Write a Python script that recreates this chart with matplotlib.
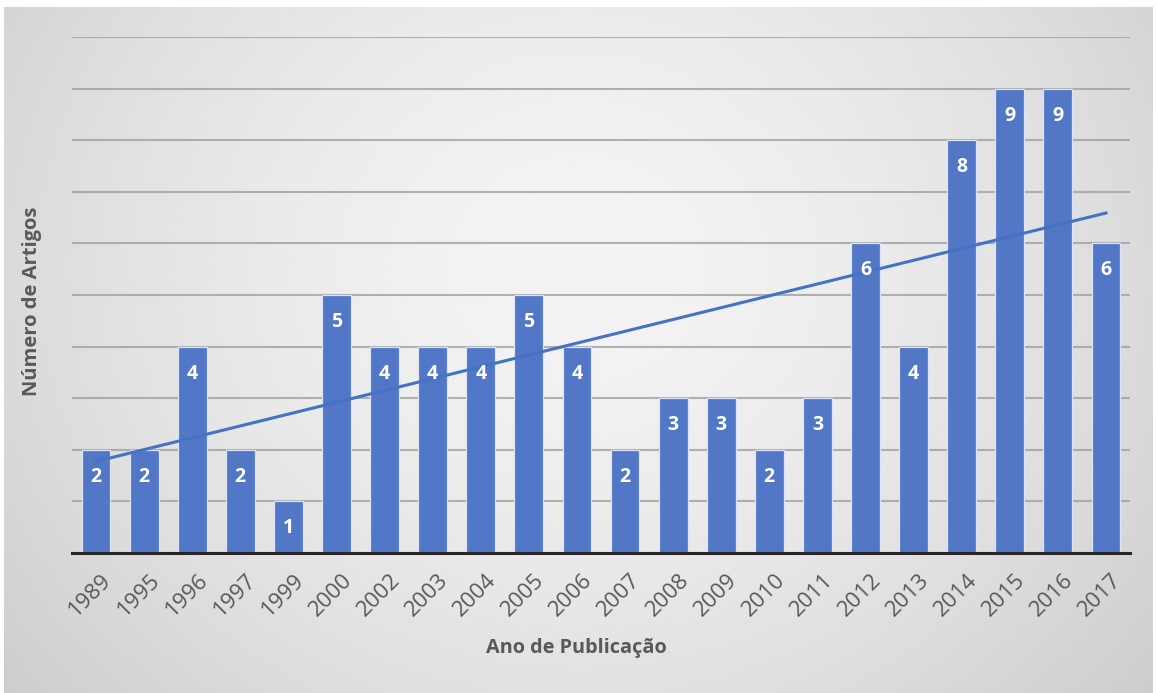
import numpy as np
import matplotlib
matplotlib.use("Agg")
import matplotlib.pyplot as plt

plt.rcParams['font.family'] = ['Open Sans', 'DejaVu Sans']

years = ["1989", "1995", "1996", "1997", "1999", "2000", "2002", "2003", "2004", "2005", "2006",
         "2007", "2008", "2009", "2010", "2011", "2012", "2013", "2014", "2015", "2016", "2017"]
counts = [2, 2, 4, 2, 1, 5, 4, 4, 4, 5, 4, 2, 3, 3, 2, 3, 6, 4, 8, 9, 9, 6]

W, H = 1157, 693
fig = plt.figure(figsize=(W / 100, H / 100), dpi=100)
fig.patch.set_facecolor('white')

# background gradient panel
bg = fig.add_axes([4 / W, 0, 1149 / W, (H - 7) / H])
ny, nx = 200, 400
yy, xx = np.mgrid[0:1:ny * 1j, 0:1:nx * 1j]
r = np.sqrt(((xx - 0.5) / 0.5) ** 2 + ((yy - 0.38) / 0.75) ** 2)
val = 0.955 - 0.17 * np.clip(r, 0, 1.6) ** 1.6 / 1.6 ** 1.6 * 1.25
bg.imshow(val, cmap='gray', vmin=0, vmax=1, aspect='auto', extent=[0, 1, 0, 1], origin='upper')
bg.set_axis_off()

ax = fig.add_axes([72 / W, 1 - 553 / H, (1130 - 72) / W, (553 - 37) / H])
ax.patch.set_alpha(0)
x = np.arange(len(years))
ax.set_xlim(-0.5, len(years) - 0.5)
ax.set_ylim(0, 10)
ax.set_yticks(np.arange(0, 11, 1))
ax.yaxis.grid(True, color='#A0A0A0', linewidth=1.5, alpha=0.8)
ax.set_axisbelow(True)
ax.tick_params(axis='y', length=0, labelleft=False)
ax.tick_params(axis='x', length=0, pad=12, labelsize=16, labelcolor='#595959')
for s in ['top', 'right', 'left']:
    ax.spines[s].set_visible(False)
ax.spines['bottom'].set_color('#262626')
ax.spines['bottom'].set_linewidth(2.2)
ax.spines['bottom'].set_zorder(5)

bars = ax.bar(x, counts, width=0.6, color='#5177C6', edgecolor='#DCE4F4', linewidth=0.9, zorder=2)
for xi, c in zip(x, counts):
    ax.annotate(str(c), (xi, c), xytext=(0, -19.5), textcoords='offset points',
                ha='center', va='center', color='white', fontsize=14, fontweight='bold', zorder=4)

coef = np.polyfit(x, counts, 1)
ax.plot(x[[0, -1]], np.polyval(coef, x[[0, -1]]), color='#4472C4', linewidth=2.2, zorder=3)

ax.set_xticks(x)
ax.set_xticklabels(years, rotation=45, ha='right', rotation_mode='anchor')
for lbl in ax.get_xticklabels():
    lbl.set_transform(lbl.get_transform() + matplotlib.transforms.ScaledTranslation(5 / 100, 0, fig.dpi_scale_trans))

fig.text(576 / W, 1 - 648 / H, "Ano de Publicação", ha='center', va='center',
         fontsize=14.3, fontweight='bold', color='#595959')
fig.text(32 / W, 1 - 301 / H, "Número de Artigos", ha='center', va='center', rotation=90,
         fontsize=14.5, fontweight='bold', color='#595959')

fig.savefig("out.png", dpi=100)
